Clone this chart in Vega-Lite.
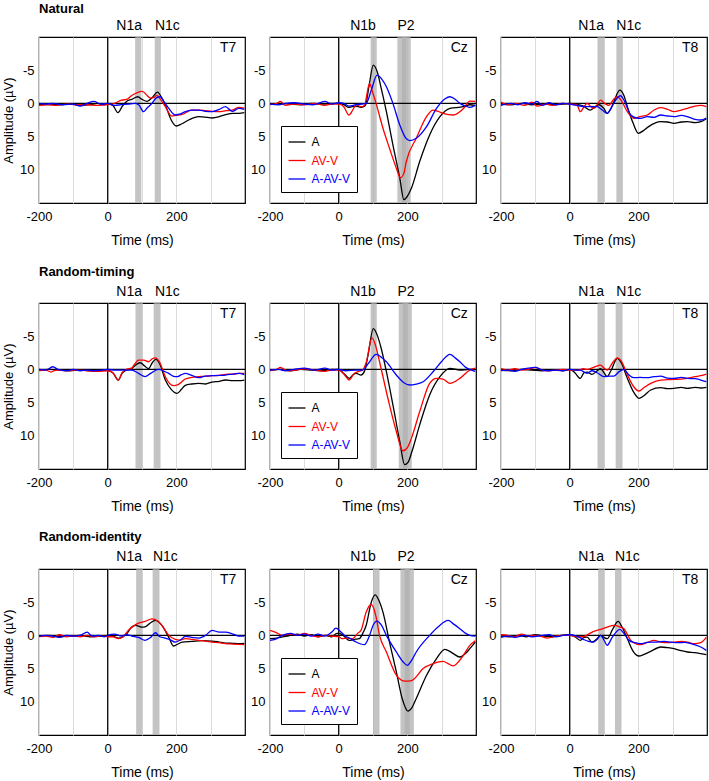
{
"$schema": "https://vega.github.io/schema/vega-lite/v6.json",
"padding": {"left": 1, "top": 2, "right": 0, "bottom": 0},
"columns": 3,
"spacing": {"row": 100, "column": 25},
"bounds": "flush",
"resolve": {"legend": {"color": "independent"}},
"datasets": {
"N_T7": [
{"s":"A","t":-200,"v":0.2},{"s":"A","t":-170,"v":0.1},{"s":"A","t":-140,"v":0.2},{"s":"A","t":-110,"v":0.1},{"s":"A","t":-80,"v":0.3},{"s":"A","t":-50,"v":0.2},{"s":"A","t":-30,"v":0},{"s":"A","t":-10,"v":0.2},{"s":"A","t":0,"v":0.1},{"s":"A","t":15,"v":0.3},{"s":"A","t":30,"v":1.4},{"s":"A","t":42,"v":0.5},{"s":"A","t":55,"v":-0.3},{"s":"A","t":70,"v":-0.6},{"s":"A","t":88,"v":-1.0},{"s":"A","t":100,"v":-0.6},{"s":"A","t":115,"v":-0.3},{"s":"A","t":130,"v":-0.9},{"s":"A","t":145,"v":-1.7},{"s":"A","t":158,"v":-0.8},{"s":"A","t":170,"v":0.5},{"s":"A","t":185,"v":2.5},{"s":"A","t":200,"v":3.4},{"s":"A","t":215,"v":3.1},{"s":"A","t":236,"v":2.5},{"s":"A","t":265,"v":2.0},{"s":"A","t":290,"v":2.1},{"s":"A","t":304,"v":2.2},{"s":"A","t":325,"v":2.0},{"s":"A","t":343,"v":1.7},{"s":"A","t":365,"v":1.5},{"s":"A","t":382,"v":1.5},{"s":"A","t":398,"v":1.4},
{"s":"AV-V","t":-200,"v":0.3},{"s":"AV-V","t":-175,"v":0.2},{"s":"AV-V","t":-150,"v":0.3},{"s":"AV-V","t":-120,"v":0.1},{"s":"AV-V","t":-90,"v":0.2},{"s":"AV-V","t":-60,"v":0.2},{"s":"AV-V","t":-30,"v":0.3},{"s":"AV-V","t":0,"v":0.2},{"s":"AV-V","t":20,"v":0},{"s":"AV-V","t":41,"v":-0.5},{"s":"AV-V","t":55,"v":-0.6},{"s":"AV-V","t":70,"v":-1.2},{"s":"AV-V","t":85,"v":-1.6},{"s":"AV-V","t":101,"v":-1.8},{"s":"AV-V","t":115,"v":-1.2},{"s":"AV-V","t":124,"v":-0.8},{"s":"AV-V","t":135,"v":-0.9},{"s":"AV-V","t":143,"v":-1.2},{"s":"AV-V","t":155,"v":-0.5},{"s":"AV-V","t":168,"v":0.5},{"s":"AV-V","t":187,"v":1.9},{"s":"AV-V","t":200,"v":1.8},{"s":"AV-V","t":215,"v":1.7},{"s":"AV-V","t":246,"v":1.0},{"s":"AV-V","t":265,"v":1.0},{"s":"AV-V","t":285,"v":1.1},{"s":"AV-V","t":304,"v":1.2},{"s":"AV-V","t":324,"v":1.25},{"s":"AV-V","t":345,"v":1.1},{"s":"AV-V","t":363,"v":1.0},{"s":"AV-V","t":382,"v":0.6},{"s":"AV-V","t":398,"v":0.7},
{"s":"A-AV-V","t":-200,"v":0},{"s":"A-AV-V","t":-180,"v":0.1},{"s":"A-AV-V","t":-160,"v":0},{"s":"A-AV-V","t":-130,"v":0.2},{"s":"A-AV-V","t":-100,"v":0.1},{"s":"A-AV-V","t":-80,"v":0.4},{"s":"A-AV-V","t":-60,"v":0},{"s":"A-AV-V","t":-40,"v":-0.3},{"s":"A-AV-V","t":-20,"v":0.1},{"s":"A-AV-V","t":0,"v":0},{"s":"A-AV-V","t":20,"v":0.3},{"s":"A-AV-V","t":40,"v":0.2},{"s":"A-AV-V","t":60,"v":0.1},{"s":"A-AV-V","t":80,"v":0},{"s":"A-AV-V","t":92,"v":0.3},{"s":"A-AV-V","t":104,"v":1.25},{"s":"A-AV-V","t":115,"v":0.7},{"s":"A-AV-V","t":129,"v":0},{"s":"A-AV-V","t":141,"v":-0.8},{"s":"A-AV-V","t":153,"v":-1.0},{"s":"A-AV-V","t":165,"v":-0.2},{"s":"A-AV-V","t":178,"v":0.75},{"s":"A-AV-V","t":197,"v":1.75},{"s":"A-AV-V","t":210,"v":1.6},{"s":"A-AV-V","t":226,"v":1.25},{"s":"A-AV-V","t":245,"v":1.0},{"s":"A-AV-V","t":265,"v":1.0},{"s":"A-AV-V","t":285,"v":1.2},{"s":"A-AV-V","t":304,"v":1.25},{"s":"A-AV-V","t":325,"v":0.9},{"s":"A-AV-V","t":343,"v":0.5},{"s":"A-AV-V","t":363,"v":1.2},{"s":"A-AV-V","t":382,"v":0.75},{"s":"A-AV-V","t":398,"v":0.9}
],
"N_Cz": [
{"s":"A","t":-200,"v":0.1},{"s":"A","t":-170,"v":0},{"s":"A","t":-140,"v":0.1},{"s":"A","t":-110,"v":0.2},{"s":"A","t":-80,"v":0},{"s":"A","t":-50,"v":0.1},{"s":"A","t":-20,"v":0},{"s":"A","t":0,"v":0},{"s":"A","t":15,"v":0.2},{"s":"A","t":30,"v":0.6},{"s":"A","t":50,"v":0.4},{"s":"A","t":65,"v":0.6},{"s":"A","t":78,"v":0.3},{"s":"A","t":88,"v":-2.5},{"s":"A","t":101,"v":-5.75},{"s":"A","t":112,"v":-4.8},{"s":"A","t":124,"v":-2.25},{"s":"A","t":139,"v":1.25},{"s":"A","t":158,"v":6.25},{"s":"A","t":178,"v":11.25},{"s":"A","t":190,"v":14.5},{"s":"A","t":200,"v":14.0},{"s":"A","t":212,"v":12.75},{"s":"A","t":236,"v":8.75},{"s":"A","t":265,"v":4.75},{"s":"A","t":295,"v":2.0},{"s":"A","t":324,"v":0.75},{"s":"A","t":363,"v":0.5},{"s":"A","t":382,"v":0.2},{"s":"A","t":398,"v":0.3},
{"s":"AV-V","t":-200,"v":0.2},{"s":"AV-V","t":-180,"v":0},{"s":"AV-V","t":-170,"v":-0.3},{"s":"AV-V","t":-155,"v":0.3},{"s":"AV-V","t":-130,"v":0.1},{"s":"AV-V","t":-100,"v":0.2},{"s":"AV-V","t":-70,"v":0},{"s":"AV-V","t":-40,"v":0.3},{"s":"AV-V","t":-20,"v":0.1},{"s":"AV-V","t":0,"v":0.1},{"s":"AV-V","t":15,"v":0.5},{"s":"AV-V","t":30,"v":1.75},{"s":"AV-V","t":42,"v":0.9},{"s":"AV-V","t":51,"v":0.2},{"s":"AV-V","t":65,"v":0.5},{"s":"AV-V","t":75,"v":0.3},{"s":"AV-V","t":90,"v":-3.0},{"s":"AV-V","t":100,"v":-1.5},{"s":"AV-V","t":109,"v":0},{"s":"AV-V","t":129,"v":3.75},{"s":"AV-V","t":148,"v":6.75},{"s":"AV-V","t":168,"v":9.75},{"s":"AV-V","t":180,"v":11.2},{"s":"AV-V","t":190,"v":10.5},{"s":"AV-V","t":197,"v":8.75},{"s":"AV-V","t":226,"v":5.25},{"s":"AV-V","t":256,"v":2.0},{"s":"AV-V","t":275,"v":1.0},{"s":"AV-V","t":290,"v":1.2},{"s":"AV-V","t":304,"v":1.5},{"s":"AV-V","t":334,"v":1.75},{"s":"AV-V","t":363,"v":0.8},{"s":"AV-V","t":382,"v":-0.35},{"s":"AV-V","t":398,"v":-0.3},
{"s":"A-AV-V","t":-200,"v":0.1},{"s":"A-AV-V","t":-175,"v":0.2},{"s":"A-AV-V","t":-155,"v":0},{"s":"A-AV-V","t":-130,"v":-0.1},{"s":"A-AV-V","t":-100,"v":0.1},{"s":"A-AV-V","t":-75,"v":0.2},{"s":"A-AV-V","t":-40,"v":-0.3},{"s":"A-AV-V","t":-20,"v":0.1},{"s":"A-AV-V","t":0,"v":-0.1},{"s":"A-AV-V","t":15,"v":0},{"s":"A-AV-V","t":30,"v":0.4},{"s":"A-AV-V","t":50,"v":0.2},{"s":"A-AV-V","t":80,"v":0},{"s":"A-AV-V","t":95,"v":-2.0},{"s":"A-AV-V","t":112,"v":-4.25},{"s":"A-AV-V","t":125,"v":-3.7},{"s":"A-AV-V","t":139,"v":-2.5},{"s":"A-AV-V","t":158,"v":0},{"s":"A-AV-V","t":178,"v":3.25},{"s":"A-AV-V","t":195,"v":5.2},{"s":"A-AV-V","t":207,"v":5.6},{"s":"A-AV-V","t":226,"v":5.25},{"s":"A-AV-V","t":256,"v":3.5},{"s":"A-AV-V","t":285,"v":0.75},{"s":"A-AV-V","t":310,"v":-0.7},{"s":"A-AV-V","t":324,"v":-1.0},{"s":"A-AV-V","t":340,"v":-0.6},{"s":"A-AV-V","t":353,"v":0},{"s":"A-AV-V","t":370,"v":0.4},{"s":"A-AV-V","t":382,"v":0.6},{"s":"A-AV-V","t":398,"v":0.3}
],
"N_T8": [
{"s":"A","t":-200,"v":0.1},{"s":"A","t":-170,"v":0.2},{"s":"A","t":-140,"v":0},{"s":"A","t":-110,"v":0.2},{"s":"A","t":-80,"v":0.1},{"s":"A","t":-50,"v":0.2},{"s":"A","t":-20,"v":0.1},{"s":"A","t":0,"v":0},{"s":"A","t":20,"v":0.1},{"s":"A","t":40,"v":0.4},{"s":"A","t":60,"v":1.0},{"s":"A","t":72,"v":0.6},{"s":"A","t":85,"v":0.2},{"s":"A","t":100,"v":0.8},{"s":"A","t":109,"v":1.5},{"s":"A","t":120,"v":0.8},{"s":"A","t":129,"v":-0.3},{"s":"A","t":146,"v":-2.0},{"s":"A","t":158,"v":-1.2},{"s":"A","t":168,"v":0.5},{"s":"A","t":185,"v":3.0},{"s":"A","t":200,"v":4.5},{"s":"A","t":215,"v":4.1},{"s":"A","t":230,"v":3.5},{"s":"A","t":265,"v":2.75},{"s":"A","t":285,"v":2.8},{"s":"A","t":304,"v":3.0},{"s":"A","t":325,"v":2.8},{"s":"A","t":343,"v":2.75},{"s":"A","t":365,"v":2.9},{"s":"A","t":382,"v":2.75},{"s":"A","t":398,"v":2.3},
{"s":"AV-V","t":-200,"v":-0.2},{"s":"AV-V","t":-180,"v":0.2},{"s":"AV-V","t":-160,"v":0},{"s":"AV-V","t":-130,"v":0.3},{"s":"AV-V","t":-110,"v":-0.2},{"s":"AV-V","t":-95,"v":0.4},{"s":"AV-V","t":-70,"v":0.1},{"s":"AV-V","t":-50,"v":0.3},{"s":"AV-V","t":-20,"v":0},{"s":"AV-V","t":0,"v":0.1},{"s":"AV-V","t":21,"v":0.2},{"s":"AV-V","t":31,"v":1.25},{"s":"AV-V","t":42,"v":0.5},{"s":"AV-V","t":51,"v":0},{"s":"AV-V","t":62,"v":0.5},{"s":"AV-V","t":70,"v":0.75},{"s":"AV-V","t":80,"v":0.2},{"s":"AV-V","t":90,"v":-0.5},{"s":"AV-V","t":102,"v":0},{"s":"AV-V","t":114,"v":0.3},{"s":"AV-V","t":128,"v":-0.6},{"s":"AV-V","t":139,"v":-1.0},{"s":"AV-V","t":152,"v":-0.3},{"s":"AV-V","t":168,"v":1.25},{"s":"AV-V","t":187,"v":2.25},{"s":"AV-V","t":205,"v":2.0},{"s":"AV-V","t":226,"v":1.75},{"s":"AV-V","t":246,"v":1.0},{"s":"AV-V","t":265,"v":0.65},{"s":"AV-V","t":285,"v":0.9},{"s":"AV-V","t":304,"v":1.25},{"s":"AV-V","t":325,"v":1.0},{"s":"AV-V","t":343,"v":0.75},{"s":"AV-V","t":365,"v":0.4},{"s":"AV-V","t":382,"v":0.3},{"s":"AV-V","t":398,"v":0.5},
{"s":"A-AV-V","t":-200,"v":0.3},{"s":"A-AV-V","t":-170,"v":0},{"s":"A-AV-V","t":-150,"v":0.2},{"s":"A-AV-V","t":-130,"v":-0.1},{"s":"A-AV-V","t":-110,"v":0.1},{"s":"A-AV-V","t":-95,"v":-0.3},{"s":"A-AV-V","t":-80,"v":0.3},{"s":"A-AV-V","t":-60,"v":-0.1},{"s":"A-AV-V","t":-40,"v":0.2},{"s":"A-AV-V","t":-20,"v":0},{"s":"A-AV-V","t":0,"v":0.1},{"s":"A-AV-V","t":20,"v":0.3},{"s":"A-AV-V","t":50,"v":0.5},{"s":"A-AV-V","t":80,"v":0.5},{"s":"A-AV-V","t":95,"v":1.0},{"s":"A-AV-V","t":109,"v":1.5},{"s":"A-AV-V","t":122,"v":0.6},{"s":"A-AV-V","t":134,"v":-0.5},{"s":"A-AV-V","t":148,"v":-1.15},{"s":"A-AV-V","t":160,"v":-0.3},{"s":"A-AV-V","t":178,"v":1.75},{"s":"A-AV-V","t":195,"v":2.2},{"s":"A-AV-V","t":207,"v":2.25},{"s":"A-AV-V","t":226,"v":2.0},{"s":"A-AV-V","t":246,"v":2.1},{"s":"A-AV-V","t":265,"v":1.75},{"s":"A-AV-V","t":285,"v":1.9},{"s":"A-AV-V","t":304,"v":2.0},{"s":"A-AV-V","t":325,"v":1.8},{"s":"A-AV-V","t":343,"v":2.0},{"s":"A-AV-V","t":365,"v":2.4},{"s":"A-AV-V","t":382,"v":2.5},{"s":"A-AV-V","t":398,"v":2.2}
],
"RT_T7": [
{"s":"A","t":-200,"v":0.1},{"s":"A","t":-170,"v":0},{"s":"A","t":-140,"v":0.1},{"s":"A","t":-110,"v":0.2},{"s":"A","t":-80,"v":0.1},{"s":"A","t":-50,"v":0.2},{"s":"A","t":-20,"v":0.1},{"s":"A","t":0,"v":0.1},{"s":"A","t":15,"v":0.5},{"s":"A","t":31,"v":1.6},{"s":"A","t":42,"v":0.6},{"s":"A","t":51,"v":0.2},{"s":"A","t":70,"v":-0.1},{"s":"A","t":85,"v":-0.8},{"s":"A","t":95,"v":-1.0},{"s":"A","t":108,"v":-0.5},{"s":"A","t":119,"v":-0.1},{"s":"A","t":130,"v":-1.0},{"s":"A","t":140,"v":-1.5},{"s":"A","t":152,"v":-0.8},{"s":"A","t":168,"v":1.6},{"s":"A","t":185,"v":3.0},{"s":"A","t":202,"v":3.6},{"s":"A","t":215,"v":3.0},{"s":"A","t":226,"v":2.4},{"s":"A","t":245,"v":2.2},{"s":"A","t":265,"v":2.1},{"s":"A","t":285,"v":2.2},{"s":"A","t":304,"v":1.9},{"s":"A","t":325,"v":1.8},{"s":"A","t":343,"v":1.6},{"s":"A","t":365,"v":1.7},{"s":"A","t":382,"v":1.7},{"s":"A","t":398,"v":1.6},
{"s":"AV-V","t":-200,"v":0.2},{"s":"AV-V","t":-180,"v":0.1},{"s":"AV-V","t":-165,"v":0.4},{"s":"AV-V","t":-150,"v":0.1},{"s":"AV-V","t":-120,"v":0.2},{"s":"AV-V","t":-90,"v":0.1},{"s":"AV-V","t":-60,"v":0.2},{"s":"AV-V","t":-30,"v":0.3},{"s":"AV-V","t":0,"v":0.2},{"s":"AV-V","t":15,"v":0.5},{"s":"AV-V","t":31,"v":1.6},{"s":"AV-V","t":42,"v":0.5},{"s":"AV-V","t":55,"v":0},{"s":"AV-V","t":70,"v":-0.2},{"s":"AV-V","t":80,"v":-0.9},{"s":"AV-V","t":90,"v":-1.4},{"s":"AV-V","t":105,"v":-1.4},{"s":"AV-V","t":119,"v":-1.15},{"s":"AV-V","t":130,"v":-1.6},{"s":"AV-V","t":139,"v":-1.75},{"s":"AV-V","t":150,"v":-1.2},{"s":"AV-V","t":168,"v":1.1},{"s":"AV-V","t":180,"v":2.1},{"s":"AV-V","t":192,"v":2.45},{"s":"AV-V","t":205,"v":2.3},{"s":"AV-V","t":226,"v":1.45},{"s":"AV-V","t":245,"v":1.2},{"s":"AV-V","t":265,"v":1.1},{"s":"AV-V","t":285,"v":1.0},{"s":"AV-V","t":304,"v":0.95},{"s":"AV-V","t":325,"v":0.9},{"s":"AV-V","t":343,"v":0.75},{"s":"AV-V","t":365,"v":0.7},{"s":"AV-V","t":382,"v":0.6},{"s":"AV-V","t":398,"v":0.6},
{"s":"A-AV-V","t":-200,"v":0},{"s":"A-AV-V","t":-180,"v":0.1},{"s":"A-AV-V","t":-160,"v":-0.4},{"s":"A-AV-V","t":-145,"v":0},{"s":"A-AV-V","t":-120,"v":0.2},{"s":"A-AV-V","t":-100,"v":0},{"s":"A-AV-V","t":-80,"v":0.2},{"s":"A-AV-V","t":-60,"v":0.1},{"s":"A-AV-V","t":-40,"v":0.2},{"s":"A-AV-V","t":-20,"v":0.1},{"s":"A-AV-V","t":0,"v":0},{"s":"A-AV-V","t":20,"v":0.1},{"s":"A-AV-V","t":40,"v":0.1},{"s":"A-AV-V","t":70,"v":0.1},{"s":"A-AV-V","t":90,"v":0.6},{"s":"A-AV-V","t":109,"v":1.1},{"s":"A-AV-V","t":125,"v":0.6},{"s":"A-AV-V","t":148,"v":0},{"s":"A-AV-V","t":165,"v":0.3},{"s":"A-AV-V","t":178,"v":0.6},{"s":"A-AV-V","t":190,"v":1.0},{"s":"A-AV-V","t":202,"v":1.1},{"s":"A-AV-V","t":215,"v":0.8},{"s":"A-AV-V","t":226,"v":0.6},{"s":"A-AV-V","t":245,"v":0.9},{"s":"A-AV-V","t":265,"v":1.25},{"s":"A-AV-V","t":285,"v":1.0},{"s":"A-AV-V","t":304,"v":0.95},{"s":"A-AV-V","t":325,"v":0.9},{"s":"A-AV-V","t":343,"v":0.85},{"s":"A-AV-V","t":365,"v":0.7},{"s":"A-AV-V","t":382,"v":0.6},{"s":"A-AV-V","t":398,"v":0.8}
],
"RT_Cz": [
{"s":"A","t":-200,"v":0.1},{"s":"A","t":-170,"v":0},{"s":"A","t":-140,"v":0.2},{"s":"A","t":-110,"v":0},{"s":"A","t":-80,"v":0.1},{"s":"A","t":-50,"v":0.2},{"s":"A","t":-20,"v":0},{"s":"A","t":0,"v":0},{"s":"A","t":15,"v":0.6},{"s":"A","t":31,"v":1.35},{"s":"A","t":42,"v":0.8},{"s":"A","t":51,"v":0.6},{"s":"A","t":65,"v":0.85},{"s":"A","t":75,"v":0.3},{"s":"A","t":85,"v":-2.0},{"s":"A","t":101,"v":-6.15},{"s":"A","t":112,"v":-5.2},{"s":"A","t":124,"v":-3.15},{"s":"A","t":139,"v":0.35},{"s":"A","t":158,"v":5.35},{"s":"A","t":178,"v":10.85},{"s":"A","t":192,"v":14.35},{"s":"A","t":202,"v":14.0},{"s":"A","t":212,"v":12.6},{"s":"A","t":236,"v":8.35},{"s":"A","t":265,"v":3.85},{"s":"A","t":295,"v":1.1},{"s":"A","t":324,"v":-0.15},{"s":"A","t":353,"v":0.1},{"s":"A","t":382,"v":0},{"s":"A","t":398,"v":0},
{"s":"AV-V","t":-200,"v":0.2},{"s":"AV-V","t":-180,"v":0},{"s":"AV-V","t":-170,"v":-0.3},{"s":"AV-V","t":-150,"v":0.2},{"s":"AV-V","t":-125,"v":0.1},{"s":"AV-V","t":-100,"v":-0.1},{"s":"AV-V","t":-70,"v":0.1},{"s":"AV-V","t":-40,"v":0.3},{"s":"AV-V","t":-20,"v":0.1},{"s":"AV-V","t":0,"v":0.1},{"s":"AV-V","t":15,"v":0.7},{"s":"AV-V","t":31,"v":1.6},{"s":"AV-V","t":45,"v":0.6},{"s":"AV-V","t":56,"v":0.35},{"s":"AV-V","t":70,"v":0.1},{"s":"AV-V","t":80,"v":-1.0},{"s":"AV-V","t":97,"v":-4.75},{"s":"AV-V","t":108,"v":-3.5},{"s":"AV-V","t":119,"v":-1.15},{"s":"AV-V","t":148,"v":5.35},{"s":"AV-V","t":168,"v":9.35},{"s":"AV-V","t":187,"v":12.25},{"s":"AV-V","t":200,"v":11.8},{"s":"AV-V","t":212,"v":10.35},{"s":"AV-V","t":236,"v":6.35},{"s":"AV-V","t":265,"v":2.1},{"s":"AV-V","t":285,"v":1.35},{"s":"AV-V","t":304,"v":1.45},{"s":"AV-V","t":324,"v":2.1},{"s":"AV-V","t":340,"v":1.8},{"s":"AV-V","t":353,"v":1.35},{"s":"AV-V","t":382,"v":0.1},{"s":"AV-V","t":398,"v":-0.2},
{"s":"A-AV-V","t":-200,"v":0.1},{"s":"A-AV-V","t":-175,"v":0},{"s":"A-AV-V","t":-155,"v":0.2},{"s":"A-AV-V","t":-130,"v":0},{"s":"A-AV-V","t":-100,"v":-0.2},{"s":"A-AV-V","t":-70,"v":0.1},{"s":"A-AV-V","t":-40,"v":-0.2},{"s":"A-AV-V","t":-20,"v":0.1},{"s":"A-AV-V","t":0,"v":0},{"s":"A-AV-V","t":20,"v":0.2},{"s":"A-AV-V","t":50,"v":0.1},{"s":"A-AV-V","t":70,"v":0.1},{"s":"A-AV-V","t":88,"v":-1.0},{"s":"A-AV-V","t":109,"v":-2.25},{"s":"A-AV-V","t":125,"v":-1.8},{"s":"A-AV-V","t":139,"v":-1.15},{"s":"A-AV-V","t":168,"v":0.85},{"s":"A-AV-V","t":190,"v":2.0},{"s":"A-AV-V","t":207,"v":2.35},{"s":"A-AV-V","t":226,"v":2.2},{"s":"A-AV-V","t":246,"v":1.85},{"s":"A-AV-V","t":275,"v":0.35},{"s":"A-AV-V","t":300,"v":-1.2},{"s":"A-AV-V","t":324,"v":-2.25},{"s":"A-AV-V","t":340,"v":-1.7},{"s":"A-AV-V","t":353,"v":-1.15},{"s":"A-AV-V","t":370,"v":-0.3},{"s":"A-AV-V","t":382,"v":0},{"s":"A-AV-V","t":398,"v":0.3}
],
"RT_T8": [
{"s":"A","t":-200,"v":0.1},{"s":"A","t":-170,"v":0.2},{"s":"A","t":-140,"v":0},{"s":"A","t":-110,"v":0.1},{"s":"A","t":-80,"v":0.2},{"s":"A","t":-50,"v":0.1},{"s":"A","t":-20,"v":0.2},{"s":"A","t":0,"v":0},{"s":"A","t":15,"v":0.5},{"s":"A","t":31,"v":1.35},{"s":"A","t":42,"v":0.5},{"s":"A","t":51,"v":0.4},{"s":"A","t":65,"v":0.75},{"s":"A","t":78,"v":0.3},{"s":"A","t":90,"v":-0.1},{"s":"A","t":100,"v":0.5},{"s":"A","t":109,"v":1.1},{"s":"A","t":120,"v":0.2},{"s":"A","t":139,"v":-1.65},{"s":"A","t":150,"v":-1.0},{"s":"A","t":168,"v":1.35},{"s":"A","t":185,"v":3.3},{"s":"A","t":202,"v":4.35},{"s":"A","t":215,"v":4.0},{"s":"A","t":236,"v":3.1},{"s":"A","t":265,"v":2.75},{"s":"A","t":285,"v":2.9},{"s":"A","t":304,"v":2.85},{"s":"A","t":325,"v":2.7},{"s":"A","t":343,"v":2.85},{"s":"A","t":365,"v":2.7},{"s":"A","t":382,"v":2.8},{"s":"A","t":398,"v":2.7},
{"s":"AV-V","t":-200,"v":-0.1},{"s":"AV-V","t":-180,"v":0.1},{"s":"AV-V","t":-160,"v":-0.1},{"s":"AV-V","t":-140,"v":0.1},{"s":"AV-V","t":-120,"v":0},{"s":"AV-V","t":-100,"v":-0.3},{"s":"AV-V","t":-80,"v":0.1},{"s":"AV-V","t":-60,"v":0.2},{"s":"AV-V","t":-40,"v":0.1},{"s":"AV-V","t":-20,"v":0},{"s":"AV-V","t":0,"v":0.1},{"s":"AV-V","t":26,"v":0.1},{"s":"AV-V","t":40,"v":-0.1},{"s":"AV-V","t":51,"v":0},{"s":"AV-V","t":70,"v":-0.3},{"s":"AV-V","t":90,"v":-0.65},{"s":"AV-V","t":100,"v":-0.2},{"s":"AV-V","t":109,"v":0.1},{"s":"AV-V","t":125,"v":-1.0},{"s":"AV-V","t":139,"v":-1.75},{"s":"AV-V","t":150,"v":-1.3},{"s":"AV-V","t":168,"v":0.8},{"s":"AV-V","t":185,"v":2.5},{"s":"AV-V","t":202,"v":3.25},{"s":"AV-V","t":215,"v":2.8},{"s":"AV-V","t":236,"v":2.1},{"s":"AV-V","t":265,"v":1.6},{"s":"AV-V","t":285,"v":1.55},{"s":"AV-V","t":304,"v":1.5},{"s":"AV-V","t":325,"v":1.45},{"s":"AV-V","t":343,"v":1.35},{"s":"AV-V","t":365,"v":1.1},{"s":"AV-V","t":382,"v":0.95},{"s":"AV-V","t":398,"v":0.7},
{"s":"A-AV-V","t":-200,"v":0.2},{"s":"A-AV-V","t":-180,"v":0.1},{"s":"A-AV-V","t":-160,"v":0.3},{"s":"A-AV-V","t":-140,"v":0},{"s":"A-AV-V","t":-120,"v":-0.2},{"s":"A-AV-V","t":-100,"v":-0.3},{"s":"A-AV-V","t":-80,"v":0.1},{"s":"A-AV-V","t":-60,"v":0.2},{"s":"A-AV-V","t":-40,"v":0.1},{"s":"A-AV-V","t":-20,"v":0.2},{"s":"A-AV-V","t":0,"v":0},{"s":"A-AV-V","t":15,"v":0.1},{"s":"A-AV-V","t":31,"v":0.1},{"s":"A-AV-V","t":51,"v":0.6},{"s":"A-AV-V","t":65,"v":0.2},{"s":"A-AV-V","t":80,"v":0.5},{"s":"A-AV-V","t":100,"v":1.1},{"s":"A-AV-V","t":115,"v":1.0},{"s":"A-AV-V","t":129,"v":1.0},{"s":"A-AV-V","t":145,"v":0.3},{"s":"A-AV-V","t":158,"v":0},{"s":"A-AV-V","t":172,"v":0.8},{"s":"A-AV-V","t":187,"v":1.25},{"s":"A-AV-V","t":205,"v":1.2},{"s":"A-AV-V","t":226,"v":1.25},{"s":"A-AV-V","t":245,"v":1.1},{"s":"A-AV-V","t":265,"v":1.0},{"s":"A-AV-V","t":285,"v":1.3},{"s":"A-AV-V","t":304,"v":1.35},{"s":"A-AV-V","t":325,"v":1.2},{"s":"A-AV-V","t":343,"v":1.35},{"s":"A-AV-V","t":365,"v":1.4},{"s":"A-AV-V","t":382,"v":1.6},{"s":"A-AV-V","t":398,"v":1.85}
],
"RI_T7": [
{"s":"A","t":-200,"v":0.1},{"s":"A","t":-170,"v":0},{"s":"A","t":-140,"v":0.2},{"s":"A","t":-110,"v":0.1},{"s":"A","t":-80,"v":0},{"s":"A","t":-50,"v":0.2},{"s":"A","t":-20,"v":0.1},{"s":"A","t":0,"v":0},{"s":"A","t":15,"v":0.1},{"s":"A","t":31,"v":0.4},{"s":"A","t":45,"v":0.2},{"s":"A","t":55,"v":-0.2},{"s":"A","t":70,"v":-1.25},{"s":"A","t":80,"v":-1.5},{"s":"A","t":90,"v":-1.4},{"s":"A","t":100,"v":-1.25},{"s":"A","t":109,"v":-1.3},{"s":"A","t":125,"v":-1.9},{"s":"A","t":139,"v":-2.25},{"s":"A","t":158,"v":-1.5},{"s":"A","t":178,"v":0.3},{"s":"A","t":192,"v":1.6},{"s":"A","t":205,"v":1.3},{"s":"A","t":217,"v":1.0},{"s":"A","t":246,"v":0.9},{"s":"A","t":275,"v":0.8},{"s":"A","t":304,"v":0.85},{"s":"A","t":325,"v":1.0},{"s":"A","t":343,"v":1.15},{"s":"A","t":365,"v":1.2},{"s":"A","t":382,"v":1.25},{"s":"A","t":398,"v":1.2},
{"s":"AV-V","t":-200,"v":0.2},{"s":"AV-V","t":-180,"v":0.1},{"s":"AV-V","t":-160,"v":0.3},{"s":"AV-V","t":-140,"v":-0.1},{"s":"AV-V","t":-120,"v":0.2},{"s":"AV-V","t":-100,"v":0.1},{"s":"AV-V","t":-80,"v":0.2},{"s":"AV-V","t":-60,"v":0},{"s":"AV-V","t":-40,"v":0.2},{"s":"AV-V","t":-20,"v":0.1},{"s":"AV-V","t":0,"v":0.2},{"s":"AV-V","t":15,"v":0.2},{"s":"AV-V","t":31,"v":0.5},{"s":"AV-V","t":45,"v":0.2},{"s":"AV-V","t":60,"v":-0.75},{"s":"AV-V","t":75,"v":-1.4},{"s":"AV-V","t":90,"v":-1.85},{"s":"AV-V","t":109,"v":-2.1},{"s":"AV-V","t":129,"v":-2.5},{"s":"AV-V","t":145,"v":-2.2},{"s":"AV-V","t":158,"v":-1.5},{"s":"AV-V","t":178,"v":0},{"s":"AV-V","t":197,"v":0.6},{"s":"AV-V","t":210,"v":0.7},{"s":"AV-V","t":226,"v":0.5},{"s":"AV-V","t":245,"v":0.6},{"s":"AV-V","t":265,"v":0.75},{"s":"AV-V","t":285,"v":0.85},{"s":"AV-V","t":304,"v":1.0},{"s":"AV-V","t":325,"v":1.1},{"s":"AV-V","t":343,"v":1.25},{"s":"AV-V","t":365,"v":1.3},{"s":"AV-V","t":382,"v":1.35},{"s":"AV-V","t":398,"v":1.4},
{"s":"A-AV-V","t":-200,"v":0.1},{"s":"A-AV-V","t":-180,"v":0},{"s":"A-AV-V","t":-160,"v":0.1},{"s":"A-AV-V","t":-140,"v":0.3},{"s":"A-AV-V","t":-120,"v":0},{"s":"A-AV-V","t":-100,"v":0.1},{"s":"A-AV-V","t":-80,"v":0},{"s":"A-AV-V","t":-60,"v":-0.5},{"s":"A-AV-V","t":-45,"v":0.1},{"s":"A-AV-V","t":-25,"v":0},{"s":"A-AV-V","t":-10,"v":0.2},{"s":"A-AV-V","t":0,"v":0},{"s":"A-AV-V","t":20,"v":-0.2},{"s":"A-AV-V","t":40,"v":0.1},{"s":"A-AV-V","t":55,"v":-0.1},{"s":"A-AV-V","t":70,"v":0.1},{"s":"A-AV-V","t":90,"v":0.3},{"s":"A-AV-V","t":109,"v":0.75},{"s":"A-AV-V","t":125,"v":0.3},{"s":"A-AV-V","t":139,"v":-0.4},{"s":"A-AV-V","t":152,"v":0.2},{"s":"A-AV-V","t":168,"v":0.4},{"s":"A-AV-V","t":180,"v":0.6},{"s":"A-AV-V","t":197,"v":1.0},{"s":"A-AV-V","t":212,"v":0.7},{"s":"A-AV-V","t":226,"v":0.15},{"s":"A-AV-V","t":245,"v":0.3},{"s":"A-AV-V","t":265,"v":0.4},{"s":"A-AV-V","t":285,"v":0},{"s":"A-AV-V","t":304,"v":-0.75},{"s":"A-AV-V","t":325,"v":-0.5},{"s":"A-AV-V","t":343,"v":-0.5},{"s":"A-AV-V","t":365,"v":-0.2},{"s":"A-AV-V","t":382,"v":0.1},{"s":"A-AV-V","t":398,"v":0.1}
],
"RI_Cz": [
{"s":"A","t":-200,"v":0.5},{"s":"A","t":-180,"v":0.4},{"s":"A","t":-160,"v":0.2},{"s":"A","t":-140,"v":0},{"s":"A","t":-120,"v":-0.2},{"s":"A","t":-100,"v":0.1},{"s":"A","t":-80,"v":-0.1},{"s":"A","t":-60,"v":0.2},{"s":"A","t":-40,"v":0},{"s":"A","t":-20,"v":0.2},{"s":"A","t":-5,"v":-0.3},{"s":"A","t":2,"v":-0.3},{"s":"A","t":15,"v":0.1},{"s":"A","t":31,"v":0.75},{"s":"A","t":45,"v":0.6},{"s":"A","t":60,"v":0.5},{"s":"A","t":72,"v":-0.5},{"s":"A","t":80,"v":-1.5},{"s":"A","t":95,"v":-5.0},{"s":"A","t":106,"v":-6.1},{"s":"A","t":117,"v":-5.3},{"s":"A","t":129,"v":-3.5},{"s":"A","t":148,"v":1.0},{"s":"A","t":168,"v":5.5},{"s":"A","t":185,"v":9.5},{"s":"A","t":202,"v":11.4},{"s":"A","t":212,"v":11.0},{"s":"A","t":226,"v":9.5},{"s":"A","t":256,"v":6.0},{"s":"A","t":285,"v":3.5},{"s":"A","t":309,"v":2.1},{"s":"A","t":320,"v":2.3},{"s":"A","t":334,"v":2.75},{"s":"A","t":353,"v":3.25},{"s":"A","t":370,"v":2.7},{"s":"A","t":382,"v":2.0},{"s":"A","t":398,"v":1.0},
{"s":"AV-V","t":-200,"v":-0.75},{"s":"AV-V","t":-185,"v":-0.5},{"s":"AV-V","t":-164,"v":0},{"s":"AV-V","t":-140,"v":-0.2},{"s":"AV-V","t":-120,"v":0},{"s":"AV-V","t":-100,"v":-0.3},{"s":"AV-V","t":-80,"v":0},{"s":"AV-V","t":-60,"v":0.2},{"s":"AV-V","t":-40,"v":0},{"s":"AV-V","t":-20,"v":0.1},{"s":"AV-V","t":0,"v":0.2},{"s":"AV-V","t":10,"v":0.5},{"s":"AV-V","t":25,"v":0.4},{"s":"AV-V","t":41,"v":0.5},{"s":"AV-V","t":55,"v":-0.3},{"s":"AV-V","t":65,"v":-0.75},{"s":"AV-V","t":80,"v":-3.5},{"s":"AV-V","t":95,"v":-4.65},{"s":"AV-V","t":108,"v":-3.0},{"s":"AV-V","t":119,"v":0},{"s":"AV-V","t":139,"v":2.5},{"s":"AV-V","t":168,"v":6.0},{"s":"AV-V","t":185,"v":6.8},{"s":"AV-V","t":197,"v":6.9},{"s":"AV-V","t":212,"v":6.8},{"s":"AV-V","t":221,"v":6.5},{"s":"AV-V","t":246,"v":5.0},{"s":"AV-V","t":275,"v":4.25},{"s":"AV-V","t":304,"v":3.9},{"s":"AV-V","t":320,"v":4.3},{"s":"AV-V","t":334,"v":4.6},{"s":"AV-V","t":350,"v":3.9},{"s":"AV-V","t":363,"v":3.0},{"s":"AV-V","t":382,"v":1.5},{"s":"AV-V","t":398,"v":0.8},
{"s":"A-AV-V","t":-200,"v":0.75},{"s":"A-AV-V","t":-185,"v":0.6},{"s":"A-AV-V","t":-164,"v":0},{"s":"A-AV-V","t":-140,"v":-0.3},{"s":"A-AV-V","t":-120,"v":0},{"s":"A-AV-V","t":-100,"v":-0.2},{"s":"A-AV-V","t":-80,"v":0.1},{"s":"A-AV-V","t":-60,"v":-0.2},{"s":"A-AV-V","t":-40,"v":0.1},{"s":"A-AV-V","t":-20,"v":-0.5},{"s":"A-AV-V","t":-8,"v":-1.1},{"s":"A-AV-V","t":5,"v":-0.6},{"s":"A-AV-V","t":17,"v":0},{"s":"A-AV-V","t":35,"v":0.5},{"s":"A-AV-V","t":51,"v":1.0},{"s":"A-AV-V","t":75,"v":1.4},{"s":"A-AV-V","t":90,"v":0},{"s":"A-AV-V","t":100,"v":-1.5},{"s":"A-AV-V","t":111,"v":-2.15},{"s":"A-AV-V","t":125,"v":-1.5},{"s":"A-AV-V","t":139,"v":0},{"s":"A-AV-V","t":168,"v":2.5},{"s":"A-AV-V","t":188,"v":4.0},{"s":"A-AV-V","t":200,"v":4.5},{"s":"A-AV-V","t":212,"v":3.8},{"s":"A-AV-V","t":226,"v":2.5},{"s":"A-AV-V","t":265,"v":0},{"s":"A-AV-V","t":290,"v":-1.3},{"s":"A-AV-V","t":319,"v":-2.25},{"s":"A-AV-V","t":335,"v":-1.7},{"s":"A-AV-V","t":353,"v":-1.0},{"s":"A-AV-V","t":370,"v":-0.3},{"s":"A-AV-V","t":382,"v":0},{"s":"A-AV-V","t":398,"v":0.1}
],
"RI_T8": [
{"s":"A","t":-200,"v":0.1},{"s":"A","t":-175,"v":0.2},{"s":"A","t":-150,"v":0},{"s":"A","t":-125,"v":0.2},{"s":"A","t":-100,"v":-0.1},{"s":"A","t":-75,"v":0.1},{"s":"A","t":-50,"v":0.2},{"s":"A","t":-25,"v":0},{"s":"A","t":0,"v":-0.1},{"s":"A","t":15,"v":0.2},{"s":"A","t":31,"v":0.75},{"s":"A","t":42,"v":0.3},{"s":"A","t":51,"v":0.25},{"s":"A","t":65,"v":1.0},{"s":"A","t":78,"v":0.6},{"s":"A","t":90,"v":0},{"s":"A","t":100,"v":0.3},{"s":"A","t":109,"v":0.5},{"s":"A","t":125,"v":-0.9},{"s":"A","t":141,"v":-2.1},{"s":"A","t":152,"v":-1.3},{"s":"A","t":168,"v":0.5},{"s":"A","t":185,"v":2.4},{"s":"A","t":202,"v":3.1},{"s":"A","t":215,"v":2.9},{"s":"A","t":236,"v":2.4},{"s":"A","t":265,"v":1.75},{"s":"A","t":285,"v":1.85},{"s":"A","t":304,"v":2.0},{"s":"A","t":325,"v":2.3},{"s":"A","t":343,"v":2.5},{"s":"A","t":365,"v":2.6},{"s":"A","t":382,"v":2.75},{"s":"A","t":398,"v":2.9},
{"s":"AV-V","t":-200,"v":-0.1},{"s":"AV-V","t":-180,"v":0},{"s":"AV-V","t":-160,"v":0.2},{"s":"AV-V","t":-140,"v":-0.2},{"s":"AV-V","t":-120,"v":0.1},{"s":"AV-V","t":-100,"v":0},{"s":"AV-V","t":-80,"v":0.2},{"s":"AV-V","t":-65,"v":0.4},{"s":"AV-V","t":-40,"v":0.1},{"s":"AV-V","t":-20,"v":0},{"s":"AV-V","t":0,"v":0},{"s":"AV-V","t":20,"v":0.2},{"s":"AV-V","t":40,"v":0.2},{"s":"AV-V","t":55,"v":-0.2},{"s":"AV-V","t":70,"v":-0.6},{"s":"AV-V","t":90,"v":-0.9},{"s":"AV-V","t":109,"v":-1.25},{"s":"AV-V","t":129,"v":-1.5},{"s":"AV-V","t":145,"v":-1.3},{"s":"AV-V","t":158,"v":-1.0},{"s":"AV-V","t":178,"v":0.75},{"s":"AV-V","t":195,"v":1.3},{"s":"AV-V","t":207,"v":1.4},{"s":"AV-V","t":225,"v":1.1},{"s":"AV-V","t":246,"v":0.75},{"s":"AV-V","t":265,"v":1.0},{"s":"AV-V","t":285,"v":1.1},{"s":"AV-V","t":304,"v":1.0},{"s":"AV-V","t":325,"v":0.9},{"s":"AV-V","t":343,"v":1.0},{"s":"AV-V","t":363,"v":1.25},{"s":"AV-V","t":382,"v":1.1},{"s":"AV-V","t":398,"v":0.3},
{"s":"A-AV-V","t":-200,"v":0.3},{"s":"A-AV-V","t":-180,"v":0.1},{"s":"A-AV-V","t":-160,"v":0.3},{"s":"A-AV-V","t":-130,"v":0},{"s":"A-AV-V","t":-110,"v":0.2},{"s":"A-AV-V","t":-80,"v":0},{"s":"A-AV-V","t":-60,"v":-0.1},{"s":"A-AV-V","t":-40,"v":0.2},{"s":"A-AV-V","t":-20,"v":0},{"s":"A-AV-V","t":0,"v":-0.1},{"s":"A-AV-V","t":20,"v":0.1},{"s":"A-AV-V","t":40,"v":0.6},{"s":"A-AV-V","t":55,"v":0.9},{"s":"A-AV-V","t":70,"v":1.0},{"s":"A-AV-V","t":80,"v":0.6},{"s":"A-AV-V","t":90,"v":0},{"s":"A-AV-V","t":100,"v":0.7},{"s":"A-AV-V","t":109,"v":1.5},{"s":"A-AV-V","t":124,"v":0.3},{"s":"A-AV-V","t":146,"v":-0.9},{"s":"A-AV-V","t":158,"v":-0.3},{"s":"A-AV-V","t":173,"v":0.75},{"s":"A-AV-V","t":190,"v":1.1},{"s":"A-AV-V","t":207,"v":1.25},{"s":"A-AV-V","t":225,"v":1.05},{"s":"A-AV-V","t":236,"v":1.0},{"s":"A-AV-V","t":255,"v":1.0},{"s":"A-AV-V","t":275,"v":0.9},{"s":"A-AV-V","t":295,"v":1.0},{"s":"A-AV-V","t":314,"v":1.1},{"s":"A-AV-V","t":335,"v":1.05},{"s":"A-AV-V","t":353,"v":1.25},{"s":"A-AV-V","t":370,"v":1.5},{"s":"A-AV-V","t":382,"v":1.75},{"s":"A-AV-V","t":398,"v":2.25}
]
},
"concat": [
{"width": 206, "height": 166,
 "title": {"text": "Natural", "anchor": "start", "frame": "group", "fontSize": 13, "fontWeight": "bold", "offset": 3},
 "layer": [
  {"data": {"values": [{"t0": 80, "t1": 98}, {"t0": 137, "t1": 155}]}, "mark": {"type": "rect", "color": "#b0b0b0", "opacity": 0.75},
   "encoding": {"x": {"field": "t0", "type": "quantitative"}, "x2": {"field": "t1"}}},
  {"data": {"values": [{}]}, "mark": {"type": "rule", "color": "#000", "strokeWidth": 1.2}, "encoding": {"x": {"datum": 0}}},
  {"data": {"values": [{}]}, "mark": {"type": "rule", "color": "#000", "strokeWidth": 1.2}, "encoding": {"y": {"datum": 0}}},
  {"data": {"name": "N_T7"}, "mark": {"type": "line", "strokeWidth": 1.3, "interpolate": "monotone"},
   "encoding": {"x": {"field": "t", "type": "quantitative", "scale": {"domain": [-200, 400], "nice": false, "zero": false}, "axis": {"title": "Time (ms)", "values": [-200, -100, 0, 100, 200, 300], "labelExpr": "datum.value % 200 == 0 ? '' + datum.value : ''"}},
    "y": {"field": "v", "type": "quantitative", "scale": {"domain": [-10, 15], "reverse": true, "nice": false, "zero": false}, "axis": {"title": "Amplitude (µV)", "values": [-5, 0, 5, 10], "labelExpr": "'' + datum.value"}},
    "color": {"field": "s", "type": "nominal", "scale": {"domain": ["A", "AV-V", "A-AV-V"], "range": ["#000000", "#ff0000", "#0000ff"]}, "legend": null}}},
  {"data": {"values": [{"lab": "N1a", "t": 62.5}, {"lab": "N1c", "t": 174}]}, "mark": {"type": "text", "baseline": "middle", "fontSize": 14}, "encoding": {"x": {"field": "t", "type": "quantitative"}, "y": {"datum": -11.6}, "text": {"field": "lab"}}},
  {"data": {"values": [{}]}, "mark": {"type": "text", "align": "right", "baseline": "middle", "fontSize": 14}, "encoding": {"x": {"datum": 375}, "y": {"datum": -8.4}, "text": {"value": "T7"}}}
 ]},
{"width": 206, "height": 166,
 "layer": [
  {"data": {"values": [{"t0": 93, "t1": 111}, {"t0": 171, "t1": 197}, {"t0": 184, "t1": 210}]}, "mark": {"type": "rect", "color": "#b0b0b0", "opacity": 0.75},
   "encoding": {"x": {"field": "t0", "type": "quantitative"}, "x2": {"field": "t1"}}},
  {"data": {"values": [{}]}, "mark": {"type": "rule", "color": "#000", "strokeWidth": 1.2}, "encoding": {"x": {"datum": 0}}},
  {"data": {"values": [{}]}, "mark": {"type": "rule", "color": "#000", "strokeWidth": 1.2}, "encoding": {"y": {"datum": 0}}},
  {"data": {"name": "N_Cz"}, "mark": {"type": "line", "strokeWidth": 1.3, "interpolate": "monotone"},
   "encoding": {"x": {"field": "t", "type": "quantitative", "scale": {"domain": [-200, 400], "nice": false, "zero": false}, "axis": {"title": "Time (ms)", "values": [-200, -100, 0, 100, 200, 300], "labelExpr": "datum.value % 200 == 0 ? '' + datum.value : ''"}},
    "y": {"field": "v", "type": "quantitative", "scale": {"domain": [-10, 15], "reverse": true, "nice": false, "zero": false}, "axis": {"title": null, "values": [-5, 0, 5, 10], "labelExpr": "'' + datum.value"}},
    "color": {"field": "s", "type": "nominal", "scale": {"domain": ["A", "AV-V", "A-AV-V"], "range": ["#000000", "#ff0000", "#0000ff"]},
     "legend": {"orient": "bottom-left", "offset": 11, "title": null, "strokeColor": "#000", "fillColor": "#fff", "padding": 6.5, "symbolType": "stroke", "symbolSize": 289, "symbolStrokeWidth": 1.3, "labelFontSize": 12, "rowPadding": 2.5, "labelOffset": 5, "encode": {"labels": {"update": {"fill": {"scale": "color", "field": "value"}}}}}}}},
  {"data": {"values": [{"lab": "N1b", "t": 71}, {"lab": "P2", "t": 196}]}, "mark": {"type": "text", "baseline": "middle", "fontSize": 14}, "encoding": {"x": {"field": "t", "type": "quantitative"}, "y": {"datum": -11.6}, "text": {"field": "lab"}}},
  {"data": {"values": [{}]}, "mark": {"type": "text", "align": "right", "baseline": "middle", "fontSize": 14}, "encoding": {"x": {"datum": 376}, "y": {"datum": -8.4}, "text": {"value": "Cz"}}}
 ]},
{"width": 206, "height": 166,
 "layer": [
  {"data": {"values": [{"t0": 81, "t1": 101}, {"t0": 136, "t1": 155}]}, "mark": {"type": "rect", "color": "#b0b0b0", "opacity": 0.75},
   "encoding": {"x": {"field": "t0", "type": "quantitative"}, "x2": {"field": "t1"}}},
  {"data": {"values": [{}]}, "mark": {"type": "rule", "color": "#000", "strokeWidth": 1.2}, "encoding": {"x": {"datum": 0}}},
  {"data": {"values": [{}]}, "mark": {"type": "rule", "color": "#000", "strokeWidth": 1.2}, "encoding": {"y": {"datum": 0}}},
  {"data": {"name": "N_T8"}, "mark": {"type": "line", "strokeWidth": 1.3, "interpolate": "monotone"},
   "encoding": {"x": {"field": "t", "type": "quantitative", "scale": {"domain": [-200, 400], "nice": false, "zero": false}, "axis": {"title": "Time (ms)", "values": [-200, -100, 0, 100, 200, 300], "labelExpr": "datum.value % 200 == 0 ? '' + datum.value : ''"}},
    "y": {"field": "v", "type": "quantitative", "scale": {"domain": [-10, 15], "reverse": true, "nice": false, "zero": false}, "axis": {"title": null, "values": [-5, 0, 5, 10], "labelExpr": "'' + datum.value"}},
    "color": {"field": "s", "type": "nominal", "scale": {"domain": ["A", "AV-V", "A-AV-V"], "range": ["#000000", "#ff0000", "#0000ff"]}, "legend": null}}},
  {"data": {"values": [{"lab": "N1a", "t": 62.5}, {"lab": "N1c", "t": 172}]}, "mark": {"type": "text", "baseline": "middle", "fontSize": 14}, "encoding": {"x": {"field": "t", "type": "quantitative"}, "y": {"datum": -11.6}, "text": {"field": "lab"}}},
  {"data": {"values": [{}]}, "mark": {"type": "text", "align": "right", "baseline": "middle", "fontSize": 14}, "encoding": {"x": {"datum": 375}, "y": {"datum": -8.4}, "text": {"value": "T8"}}}
 ]},
{"width": 206, "height": 166,
 "title": {"text": "Random-timing", "anchor": "start", "frame": "group", "fontSize": 13, "fontWeight": "bold", "offset": 6},
 "layer": [
  {"data": {"values": [{"t0": 81, "t1": 101}, {"t0": 134, "t1": 154}]}, "mark": {"type": "rect", "color": "#b0b0b0", "opacity": 0.75},
   "encoding": {"x": {"field": "t0", "type": "quantitative"}, "x2": {"field": "t1"}}},
  {"data": {"values": [{}]}, "mark": {"type": "rule", "color": "#000", "strokeWidth": 1.2}, "encoding": {"x": {"datum": 0}}},
  {"data": {"values": [{}]}, "mark": {"type": "rule", "color": "#000", "strokeWidth": 1.2}, "encoding": {"y": {"datum": 0}}},
  {"data": {"name": "RT_T7"}, "mark": {"type": "line", "strokeWidth": 1.3, "interpolate": "monotone"},
   "encoding": {"x": {"field": "t", "type": "quantitative", "scale": {"domain": [-200, 400], "nice": false, "zero": false}, "axis": {"title": "Time (ms)", "values": [-200, -100, 0, 100, 200, 300], "labelExpr": "datum.value % 200 == 0 ? '' + datum.value : ''"}},
    "y": {"field": "v", "type": "quantitative", "scale": {"domain": [-10, 15], "reverse": true, "nice": false, "zero": false}, "axis": {"title": "Amplitude (µV)", "values": [-5, 0, 5, 10], "labelExpr": "'' + datum.value"}},
    "color": {"field": "s", "type": "nominal", "scale": {"domain": ["A", "AV-V", "A-AV-V"], "range": ["#000000", "#ff0000", "#0000ff"]}, "legend": null}}},
  {"data": {"values": [{"lab": "N1a", "t": 62.5}, {"lab": "N1c", "t": 174}]}, "mark": {"type": "text", "baseline": "middle", "fontSize": 14}, "encoding": {"x": {"field": "t", "type": "quantitative"}, "y": {"datum": -11.6}, "text": {"field": "lab"}}},
  {"data": {"values": [{}]}, "mark": {"type": "text", "align": "right", "baseline": "middle", "fontSize": 14}, "encoding": {"x": {"datum": 375}, "y": {"datum": -8.4}, "text": {"value": "T7"}}}
 ]},
{"width": 206, "height": 166,
 "layer": [
  {"data": {"values": [{"t0": 93, "t1": 111}, {"t0": 175, "t1": 200}, {"t0": 187, "t1": 213}]}, "mark": {"type": "rect", "color": "#b0b0b0", "opacity": 0.75},
   "encoding": {"x": {"field": "t0", "type": "quantitative"}, "x2": {"field": "t1"}}},
  {"data": {"values": [{}]}, "mark": {"type": "rule", "color": "#000", "strokeWidth": 1.2}, "encoding": {"x": {"datum": 0}}},
  {"data": {"values": [{}]}, "mark": {"type": "rule", "color": "#000", "strokeWidth": 1.2}, "encoding": {"y": {"datum": 0}}},
  {"data": {"name": "RT_Cz"}, "mark": {"type": "line", "strokeWidth": 1.3, "interpolate": "monotone"},
   "encoding": {"x": {"field": "t", "type": "quantitative", "scale": {"domain": [-200, 400], "nice": false, "zero": false}, "axis": {"title": "Time (ms)", "values": [-200, -100, 0, 100, 200, 300], "labelExpr": "datum.value % 200 == 0 ? '' + datum.value : ''"}},
    "y": {"field": "v", "type": "quantitative", "scale": {"domain": [-10, 15], "reverse": true, "nice": false, "zero": false}, "axis": {"title": null, "values": [-5, 0, 5, 10], "labelExpr": "'' + datum.value"}},
    "color": {"field": "s", "type": "nominal", "scale": {"domain": ["A", "AV-V", "A-AV-V"], "range": ["#000000", "#ff0000", "#0000ff"]},
     "legend": {"orient": "bottom-left", "offset": 11, "title": null, "strokeColor": "#000", "fillColor": "#fff", "padding": 6.5, "symbolType": "stroke", "symbolSize": 289, "symbolStrokeWidth": 1.3, "labelFontSize": 12, "rowPadding": 2.5, "labelOffset": 5, "encode": {"labels": {"update": {"fill": {"scale": "color", "field": "value"}}}}}}}},
  {"data": {"values": [{"lab": "N1b", "t": 71}, {"lab": "P2", "t": 196}]}, "mark": {"type": "text", "baseline": "middle", "fontSize": 14}, "encoding": {"x": {"field": "t", "type": "quantitative"}, "y": {"datum": -11.6}, "text": {"field": "lab"}}},
  {"data": {"values": [{}]}, "mark": {"type": "text", "align": "right", "baseline": "middle", "fontSize": 14}, "encoding": {"x": {"datum": 376}, "y": {"datum": -8.4}, "text": {"value": "Cz"}}}
 ]},
{"width": 206, "height": 166,
 "layer": [
  {"data": {"values": [{"t0": 81, "t1": 101}, {"t0": 134, "t1": 154}]}, "mark": {"type": "rect", "color": "#b0b0b0", "opacity": 0.75},
   "encoding": {"x": {"field": "t0", "type": "quantitative"}, "x2": {"field": "t1"}}},
  {"data": {"values": [{}]}, "mark": {"type": "rule", "color": "#000", "strokeWidth": 1.2}, "encoding": {"x": {"datum": 0}}},
  {"data": {"values": [{}]}, "mark": {"type": "rule", "color": "#000", "strokeWidth": 1.2}, "encoding": {"y": {"datum": 0}}},
  {"data": {"name": "RT_T8"}, "mark": {"type": "line", "strokeWidth": 1.3, "interpolate": "monotone"},
   "encoding": {"x": {"field": "t", "type": "quantitative", "scale": {"domain": [-200, 400], "nice": false, "zero": false}, "axis": {"title": "Time (ms)", "values": [-200, -100, 0, 100, 200, 300], "labelExpr": "datum.value % 200 == 0 ? '' + datum.value : ''"}},
    "y": {"field": "v", "type": "quantitative", "scale": {"domain": [-10, 15], "reverse": true, "nice": false, "zero": false}, "axis": {"title": null, "values": [-5, 0, 5, 10], "labelExpr": "'' + datum.value"}},
    "color": {"field": "s", "type": "nominal", "scale": {"domain": ["A", "AV-V", "A-AV-V"], "range": ["#000000", "#ff0000", "#0000ff"]}, "legend": null}}},
  {"data": {"values": [{"lab": "N1a", "t": 62.5}, {"lab": "N1c", "t": 172}]}, "mark": {"type": "text", "baseline": "middle", "fontSize": 14}, "encoding": {"x": {"field": "t", "type": "quantitative"}, "y": {"datum": -11.6}, "text": {"field": "lab"}}},
  {"data": {"values": [{}]}, "mark": {"type": "text", "align": "right", "baseline": "middle", "fontSize": 14}, "encoding": {"x": {"datum": 375}, "y": {"datum": -8.4}, "text": {"value": "T8"}}}
 ]},
{"width": 206, "height": 166,
 "title": {"text": "Random-identity", "anchor": "start", "frame": "group", "fontSize": 13, "fontWeight": "bold", "offset": 6},
 "layer": [
  {"data": {"values": [{"t0": 83, "t1": 101}, {"t0": 131, "t1": 151}]}, "mark": {"type": "rect", "color": "#b0b0b0", "opacity": 0.75},
   "encoding": {"x": {"field": "t0", "type": "quantitative"}, "x2": {"field": "t1"}}},
  {"data": {"values": [{}]}, "mark": {"type": "rule", "color": "#000", "strokeWidth": 1.2}, "encoding": {"x": {"datum": 0}}},
  {"data": {"values": [{}]}, "mark": {"type": "rule", "color": "#000", "strokeWidth": 1.2}, "encoding": {"y": {"datum": 0}}},
  {"data": {"name": "RI_T7"}, "mark": {"type": "line", "strokeWidth": 1.3, "interpolate": "monotone"},
   "encoding": {"x": {"field": "t", "type": "quantitative", "scale": {"domain": [-200, 400], "nice": false, "zero": false}, "axis": {"title": "Time (ms)", "values": [-200, -100, 0, 100, 200, 300], "labelExpr": "datum.value % 200 == 0 ? '' + datum.value : ''"}},
    "y": {"field": "v", "type": "quantitative", "scale": {"domain": [-10, 15], "reverse": true, "nice": false, "zero": false}, "axis": {"title": "Amplitude (µV)", "values": [-5, 0, 5, 10], "labelExpr": "'' + datum.value"}},
    "color": {"field": "s", "type": "nominal", "scale": {"domain": ["A", "AV-V", "A-AV-V"], "range": ["#000000", "#ff0000", "#0000ff"]}, "legend": null}}},
  {"data": {"values": [{"lab": "N1a", "t": 62.5}, {"lab": "N1c", "t": 168}]}, "mark": {"type": "text", "baseline": "middle", "fontSize": 14}, "encoding": {"x": {"field": "t", "type": "quantitative"}, "y": {"datum": -11.8}, "text": {"field": "lab"}}},
  {"data": {"values": [{}]}, "mark": {"type": "text", "align": "right", "baseline": "middle", "fontSize": 14}, "encoding": {"x": {"datum": 375}, "y": {"datum": -8.4}, "text": {"value": "T7"}}}
 ]},
{"width": 206, "height": 166,
 "layer": [
  {"data": {"values": [{"t0": 100, "t1": 119}, {"t0": 180, "t1": 207}, {"t0": 192, "t1": 219}]}, "mark": {"type": "rect", "color": "#b0b0b0", "opacity": 0.75},
   "encoding": {"x": {"field": "t0", "type": "quantitative"}, "x2": {"field": "t1"}}},
  {"data": {"values": [{}]}, "mark": {"type": "rule", "color": "#000", "strokeWidth": 1.2}, "encoding": {"x": {"datum": 0}}},
  {"data": {"values": [{}]}, "mark": {"type": "rule", "color": "#000", "strokeWidth": 1.2}, "encoding": {"y": {"datum": 0}}},
  {"data": {"name": "RI_Cz"}, "mark": {"type": "line", "strokeWidth": 1.3, "interpolate": "monotone"},
   "encoding": {"x": {"field": "t", "type": "quantitative", "scale": {"domain": [-200, 400], "nice": false, "zero": false}, "axis": {"title": "Time (ms)", "values": [-200, -100, 0, 100, 200, 300], "labelExpr": "datum.value % 200 == 0 ? '' + datum.value : ''"}},
    "y": {"field": "v", "type": "quantitative", "scale": {"domain": [-10, 15], "reverse": true, "nice": false, "zero": false}, "axis": {"title": null, "values": [-5, 0, 5, 10], "labelExpr": "'' + datum.value"}},
    "color": {"field": "s", "type": "nominal", "scale": {"domain": ["A", "AV-V", "A-AV-V"], "range": ["#000000", "#ff0000", "#0000ff"]},
     "legend": {"orient": "bottom-left", "offset": 11, "title": null, "strokeColor": "#000", "fillColor": "#fff", "padding": 6.5, "symbolType": "stroke", "symbolSize": 289, "symbolStrokeWidth": 1.3, "labelFontSize": 12, "rowPadding": 2.5, "labelOffset": 5, "encode": {"labels": {"update": {"fill": {"scale": "color", "field": "value"}}}}}}}},
  {"data": {"values": [{"lab": "N1b", "t": 71}, {"lab": "P2", "t": 196}]}, "mark": {"type": "text", "baseline": "middle", "fontSize": 14}, "encoding": {"x": {"field": "t", "type": "quantitative"}, "y": {"datum": -11.8}, "text": {"field": "lab"}}},
  {"data": {"values": [{}]}, "mark": {"type": "text", "align": "right", "baseline": "middle", "fontSize": 14}, "encoding": {"x": {"datum": 376}, "y": {"datum": -8.4}, "text": {"value": "Cz"}}}
 ]},
{"width": 206, "height": 166,
 "layer": [
  {"data": {"values": [{"t0": 83, "t1": 101}, {"t0": 132, "t1": 151}]}, "mark": {"type": "rect", "color": "#b0b0b0", "opacity": 0.75},
   "encoding": {"x": {"field": "t0", "type": "quantitative"}, "x2": {"field": "t1"}}},
  {"data": {"values": [{}]}, "mark": {"type": "rule", "color": "#000", "strokeWidth": 1.2}, "encoding": {"x": {"datum": 0}}},
  {"data": {"values": [{}]}, "mark": {"type": "rule", "color": "#000", "strokeWidth": 1.2}, "encoding": {"y": {"datum": 0}}},
  {"data": {"name": "RI_T8"}, "mark": {"type": "line", "strokeWidth": 1.3, "interpolate": "monotone"},
   "encoding": {"x": {"field": "t", "type": "quantitative", "scale": {"domain": [-200, 400], "nice": false, "zero": false}, "axis": {"title": "Time (ms)", "values": [-200, -100, 0, 100, 200, 300], "labelExpr": "datum.value % 200 == 0 ? '' + datum.value : ''"}},
    "y": {"field": "v", "type": "quantitative", "scale": {"domain": [-10, 15], "reverse": true, "nice": false, "zero": false}, "axis": {"title": null, "values": [-5, 0, 5, 10], "labelExpr": "'' + datum.value"}},
    "color": {"field": "s", "type": "nominal", "scale": {"domain": ["A", "AV-V", "A-AV-V"], "range": ["#000000", "#ff0000", "#0000ff"]}, "legend": null}}},
  {"data": {"values": [{"lab": "N1a", "t": 62.5}, {"lab": "N1c", "t": 168}]}, "mark": {"type": "text", "baseline": "middle", "fontSize": 14}, "encoding": {"x": {"field": "t", "type": "quantitative"}, "y": {"datum": -11.8}, "text": {"field": "lab"}}},
  {"data": {"values": [{}]}, "mark": {"type": "text", "align": "right", "baseline": "middle", "fontSize": 14}, "encoding": {"x": {"datum": 375}, "y": {"datum": -8.4}, "text": {"value": "T8"}}}
 ]}
],
"config": {
 "font": "Liberation Sans",
 "view": {"stroke": "#000000", "strokeWidth": 1.2},
 "axis": {"domain": false, "ticks": false, "labelFontSize": 13, "titleFontSize": 13, "titleFontWeight": "normal", "labelColor": "#000", "titleColor": "#000", "gridColor": "#dcdcdc", "gridWidth": 1, "labelPadding": 5, "titlePadding": 4, "labelFlush": false, "labelOverlap": false},
 "axisBottom": {"labelPadding": 7, "titlePadding": 10, "titleFontSize": 14},
 "title": {"color": "#000"},
 "legend": {"labelFont": "Liberation Sans"}
}
}
